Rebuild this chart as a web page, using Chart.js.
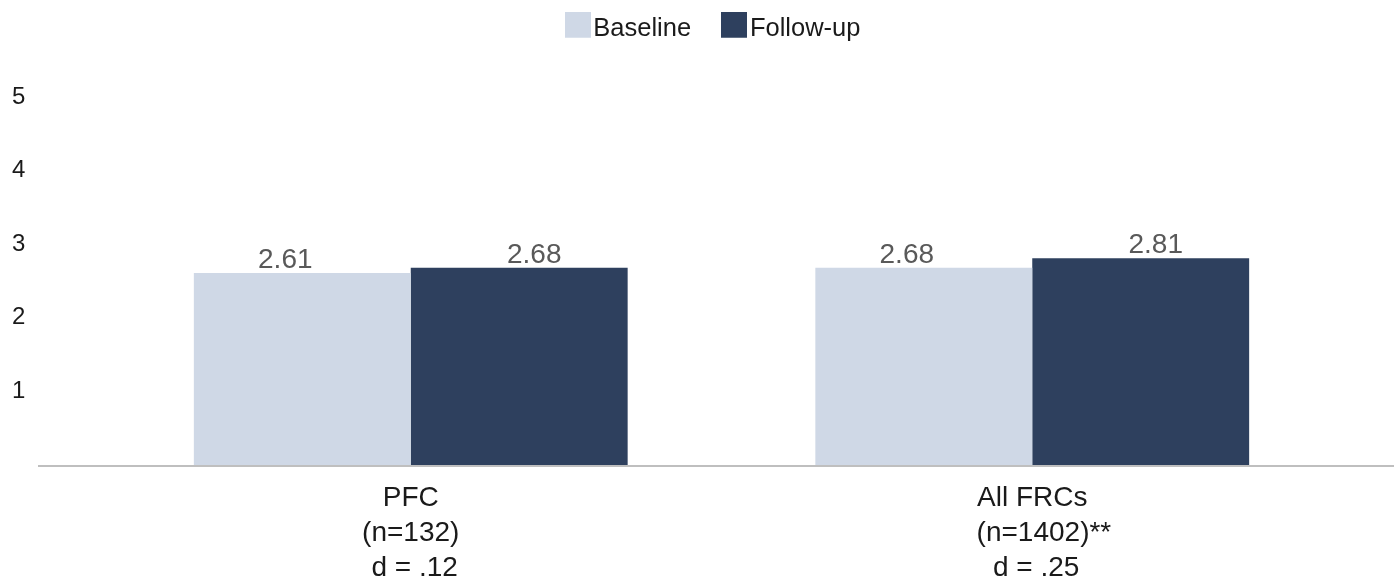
<!DOCTYPE html>
<html>
<head>
<meta charset="utf-8">
<script src="https://cdn.jsdelivr.net/npm/chart.js@4/dist/chart.umd.min.js"></script>
<style>
  html, body { margin: 0; padding: 0; background: #ffffff; }
  #wrap { width: 1394px; height: 584px; position: relative; }
</style>
</head>
<body>
<div id="wrap"><canvas id="c" width="1394" height="584"></canvas></div>
<script>
const categories = [
  ["PFC", "(n=132)", " d = .12"],
  ["All FRCs", "   (n=1402)**", " d = .25"]
];
const seriesNames = ["Baseline", "Follow-up"];
const baselineValues = [2.61, 2.68];
const followupValues = [2.68, 2.81];
const yTicks = [1, 2, 3, 4, 5];
const seriesColors = ['#CFD8E6', '#2E405E'];

const FONT = "'Liberation Sans', Arial, Helvetica, sans-serif";

function swatch(color) {
  const c = document.createElement('canvas');
  c.width = 26; c.height = 34;
  const g = c.getContext('2d');
  g.fillStyle = color;
  g.fillRect(0, 0, 26, 26);
  return c;
}
const swatches = seriesColors.map(swatch);

const legendHeightPlugin = {
  id: 'legendHeight',
  beforeInit(chart) {
    const orig = chart.legend.fit;
    chart.legend.fit = function () {
      orig.call(this);
      this.height = 97;
    };
  },
  afterLayout(chart) {
    chart.legend.left += 40;
    chart.legend.right += 40;
    chart.legend.top -= 24;
  }
};

const axisLinePlugin = {
  id: 'axisLine',
  afterDatasetsDraw(chart) {
    const ctx = chart.ctx;
    const y = chart.scales.y.getPixelForValue(0);
    ctx.save();
    ctx.strokeStyle = '#BFBFBF';
    ctx.lineWidth = 2;
    ctx.beginPath();
    ctx.moveTo(38, y + 1);
    ctx.lineTo(chart.width, y + 1);
    ctx.stroke();
    ctx.restore();
  }
};

const valueLabelPlugin = {
  id: 'valueLabels',
  afterDatasetsDraw(chart) {
    const ctx = chart.ctx;
    const offsets = [-17, 15];
    ctx.save();
    ctx.font = "28px " + FONT;
    ctx.fillStyle = '#595959';
    ctx.textAlign = 'center';
    ctx.textBaseline = 'alphabetic';
    chart.data.datasets.forEach((ds, di) => {
      const meta = chart.getDatasetMeta(di);
      meta.data.forEach((bar, i) => {
        ctx.fillText(ds.data[i].toFixed(2), bar.x + offsets[di], bar.y - 5);
      });
    });
    ctx.restore();
  }
};

new Chart(document.getElementById('c'), {
  type: 'bar',
  data: {
    labels: categories,
    datasets: [
      { label: seriesNames[0], data: baselineValues, backgroundColor: seriesColors[0], borderWidth: 0 },
      { label: seriesNames[1], data: followupValues, backgroundColor: seriesColors[1], borderWidth: 0 }
    ]
  },
  options: {
    responsive: false,
    animation: false,
    devicePixelRatio: 1,
    layout: { padding: { left: 12, right: 51, top: 0, bottom: 0 } },
    datasets: { bar: { barPercentage: 1.0, categoryPercentage: 0.698 } },
    plugins: {
      legend: {
        position: 'top',
        labels: {
          usePointStyle: true,
          pointStyleWidth: 6,
          boxHeight: 26,
          padding: 40,
          color: '#1a1a1a',
          font: { family: FONT, size: 25.5 },
          generateLabels(chart) {
            const items = Chart.defaults.plugins.legend.labels.generateLabels(chart);
            items.forEach((it, i) => { it.pointStyle = swatches[i]; });
            return items;
          }
        }
      },
      tooltip: { enabled: false }
    },
    scales: {
      x: {
        grid: { display: false, drawTicks: false },
        border: { display: false },
        ticks: {
          color: '#1a1a1a',
          font: { family: FONT, size: 28, lineHeight: 1.25 },
          padding: 16,
          maxRotation: 0,
          autoSkip: false
        },
        afterFit(scale) { scale.height = 119; }
      },
      y: {
        min: 0,
        max: 5,
        grid: { display: false, drawTicks: false },
        border: { display: false },
        afterBuildTicks(scale) { scale.ticks = yTicks.map(v => ({ value: v })); },
        ticks: {
          color: '#1a1a1a',
          font: { family: FONT, size: 24 },
          crossAlign: 'far',
          padding: 0
        },
        afterFit(scale) { scale.width = 88; }
      }
    }
  },
  plugins: [legendHeightPlugin, axisLinePlugin, valueLabelPlugin]
});
</script>
</body>
</html>
